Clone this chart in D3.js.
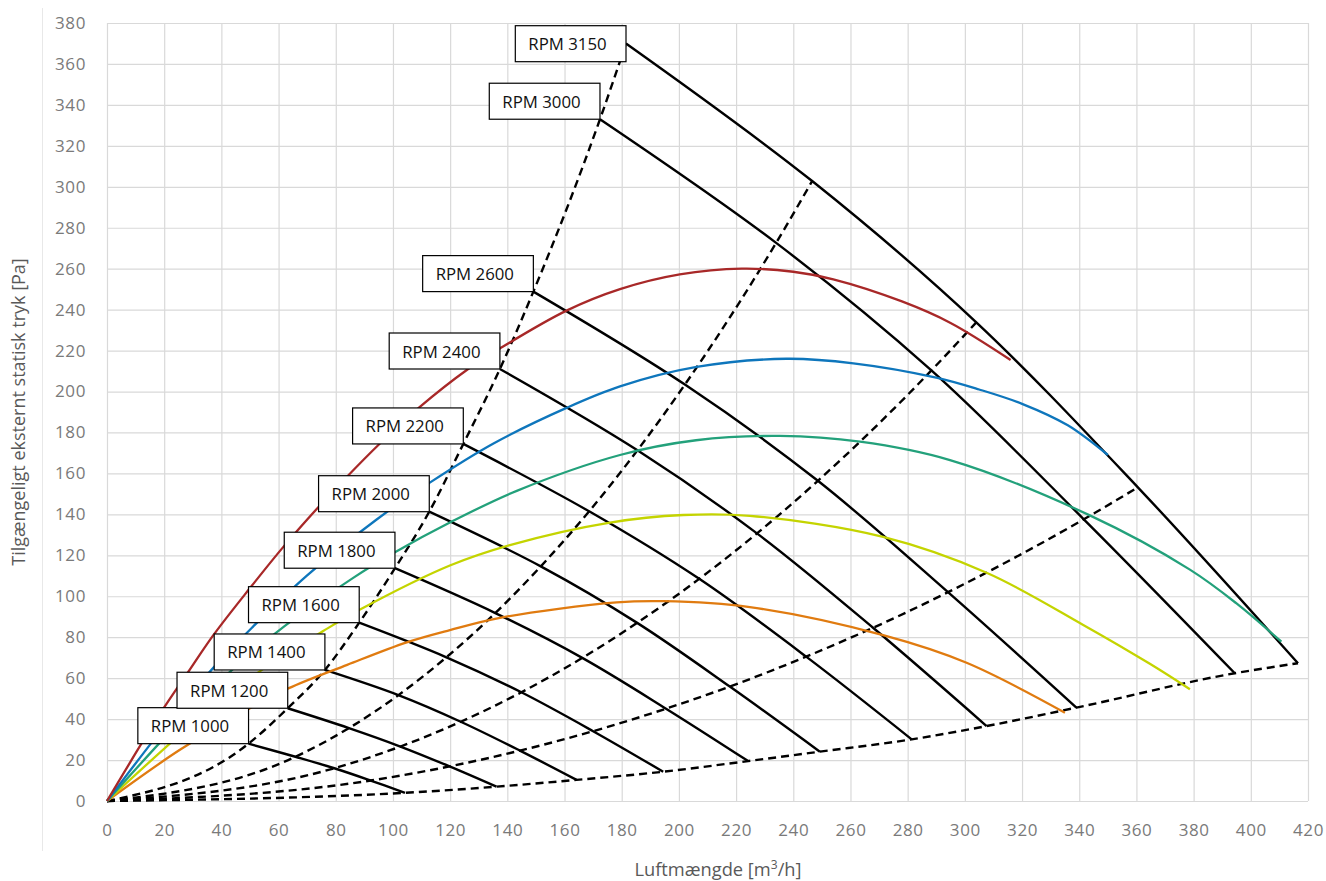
<!DOCTYPE html>
<html>
<head>
<meta charset="utf-8">
<script src="https://cdn.jsdelivr.net/npm/d3@7"></script>
<style>
  body { margin: 0; background: #fff; }
  svg { display: block; font-family: "Open Sans", sans-serif; }
</style>
</head>
<body>
<svg id="chart" width="1326" height="881"></svg>
<script>
// tick values
const xTicks = [0, 20, 40, 60, 80, 100, 120, 140, 160, 180, 200, 220, 240, 260, 280, 300, 320, 340, 360, 380, 400, 420];
const yTicks = [0, 20, 40, 60, 80, 100, 120, 140, 160, 180, 200, 220, 240, 260, 280, 300, 320, 340, 360, 380];

// fan speed curves, points where they meet the five system curves
const rpmLabels = ["RPM 1000", "RPM 1200", "RPM 1400", "RPM 1600", "RPM 1800", "RPM 2000",
                   "RPM 2200", "RPM 2400", "RPM 2600", "RPM 3000", "RPM 3150"];
const rpmCurves = [
    [[49.5, 28.0], [65.9, 21.6], [79.5, 16.0], [92.2, 10.0], [104.2, 4.0]],
    [[63.2, 45.3], [84.6, 35.6], [102.6, 26.6], [119.8, 16.9], [136.2, 7.0]],
    [[76.2, 64.0], [101.9, 51.7], [123.7, 38.7], [144.4, 24.6], [164.2, 10.3]],
    [[88.2, 87.1], [118.7, 70.2], [144.9, 53.1], [170.0, 34.1], [194.5, 14.3]],
    [[100.7, 113.7], [135.8, 91.8], [166.2, 69.9], [195.5, 45.1], [224.2, 19.5]],
    [[112.7, 141.3], [151.7, 114.6], [185.4, 87.0], [217.8, 55.9], [249.3, 24.1]],
    [[124.6, 174.4], [168.6, 141.5], [207.1, 108.5], [244.5, 70.5], [281.4, 30.1]],
    [[137.4, 211.0], [185.5, 171.3], [227.3, 130.7], [267.9, 84.6], [307.6, 36.6]],
    [[149.1, 248.8], [202.1, 203.4], [248.6, 156.4], [294.1, 102.0], [339.0, 45.6]],
    [[172.4, 333.0], [234.0, 272.6], [288.3, 210.3], [341.6, 137.6], [394.4, 62.4]],
    [[181.5, 370.0], [246.6, 302.8], [304.0, 233.8], [360.5, 153.2], [416.5, 67.3]]
];

// coloured curves
const redCurve = [[0, 0], [18.5, 42.5], [28.4, 63], [37.2, 81], [50, 104], [61.6, 124], [73.9, 143.5],
    [84, 158.5], [95, 174], [109, 192], [126.3, 211], [137.4, 221], [160.7, 239.5], [179.4, 250],
    [200.3, 257.2], [222, 260], [240, 258.5], [254, 254.8], [278, 244], [295, 233.5], [316, 215.4]];
const blueCurve = [[0, 0], [24.9, 45], [37.8, 66], [50.6, 84.5], [69.8, 110], [94.3, 137.5],
    [112.9, 155.5], [135, 174.5], [160.7, 192], [179.4, 202.5], [206.2, 212], [237.6, 216], [261, 213.8],
    [290, 206.8], [305, 201], [320, 194], [336, 183.5], [350, 169]];
const greenCurve = [[0, 0], [29.6, 45], [45.3, 66], [62.2, 85.5], [86.1, 109], [100.7, 121.5],
    [119.9, 136], [143.3, 151.5], [179.4, 169], [206, 176.2], [235.3, 178.3], [263.3, 175.5],
    [294.8, 166.5], [343.7, 139.5], [378.7, 113], [395, 96.5], [410.7, 77.8]];
const yellowCurve = [[0, 0], [36, 45], [55.2, 65], [75.6, 83], [88.5, 93.5], [119.9, 115],
    [140.9, 125], [175.9, 136], [201.5, 139.7], [224.8, 139.3], [271.4, 129], [307.6, 111.5],
    [341.4, 86], [364.7, 67], [378.7, 54.6]];
const orangeCurve = [[0, 0], [25.5, 25], [48.3, 44], [63.4, 55], [84, 66.5], [104.8, 77.5], [119.9, 83.5],
    [137.4, 89.5], [178.2, 97], [194.5, 97.6], [224.8, 94.7], [271.4, 81], [300.6, 67.5], [335, 43.1]];

const colouredCurves = [orangeCurve, yellowCurve, greenCurve, blueCurve, redCurve];
const colours = ["#e07b10", "#c4d400", "#23a17b", "#0e76bc", "#a82828"];

const plot = { left: 107, right: 1308, top: 23, bottom: 801 };

const svg = d3.select("#chart");

const xScale = d3.scaleLinear([0, 420], [plot.left, plot.right]);
const yScale = d3.scaleLinear([0, 380], [plot.bottom, plot.top]);

// chart area left border
svg.append("line")
    .attr("x1", 42.5).attr("x2", 42.5)
    .attr("y1", 8).attr("y2", 851)
    .attr("stroke", "#e8e8e8");

const xAxis = svg.append("g")
    .attr("transform", `translate(0, ${plot.bottom})`)
    .call(d3.axisBottom(xScale).tickValues(xTicks).tickSize(-(plot.bottom - plot.top))
        .tickSizeOuter(0).tickPadding(23));

const yAxis = svg.append("g")
    .attr("transform", `translate(${plot.left}, 0)`)
    .call(d3.axisLeft(yScale).tickValues(yTicks).tickSize(-(plot.right - plot.left))
        .tickSizeOuter(0).tickPadding(21));

[xAxis, yAxis].forEach(ax => {
    ax.select(".domain").remove();
    ax.selectAll(".tick line").attr("stroke", "#d9d9d9").attr("stroke-width", 1.2);
    ax.selectAll(".tick text")
        .attr("fill", "#7a7a7a")
        .style("font-size", "17px")
        .style("letter-spacing", "0.6px")
        .style("font-family", "Open Sans, sans-serif");
});

const dashedLine = d3.line()
    .x(d => xScale(d[0]))
    .y(d => yScale(d[1]))
    .curve(d3.curveMonotoneX);

const smoothLine = d3.line()
    .x(d => xScale(d[0]))
    .y(d => yScale(d[1]))
    .curve(d3.curveCatmullRom.alpha(0.5));

// system curves (dashed) through origin and the n-th point of every fan curve
const systemCurves = [0, 1, 2, 3, 4].map(i => [[0, 0]].concat(rpmCurves.map(c => c[i])));

svg.append("g").selectAll("path")
    .data(systemCurves)
    .join("path")
    .attr("fill", "none")
    .attr("stroke", "#000")
    .attr("stroke-width", 2.4)
    .attr("stroke-dasharray", "8,5")
    .attr("d", d => dashedLine(d));

svg.append("g").selectAll("path")
    .data(rpmCurves)
    .join("path")
    .attr("fill", "none")
    .attr("stroke", "#000")
    .attr("stroke-width", 2.4)
    .attr("d", d => smoothLine(d));

svg.append("g").selectAll("path")
    .data(colouredCurves)
    .join("path")
    .attr("fill", "none")
    .attr("stroke", (d, i) => colours[i])
    .attr("stroke-width", 2.3)
    .attr("d", d => smoothLine(d));

// labels at the start of each fan curve
const boxW = 110.7, boxH = 36;
const labels = svg.append("g").selectAll("g")
    .data(rpmCurves)
    .join("g")
    .attr("transform", d => {
        const px = xScale(d[0][0]);
        const py = yScale(d[0][1]);
        const top = Math.max(py - boxH, plot.top + 2.7);
        return `translate(${px - boxW}, ${top})`;
    });

labels.append("rect")
    .attr("width", boxW)
    .attr("height", boxH)
    .attr("fill", "#fff")
    .attr("stroke", "#000")
    .attr("stroke-width", 1.2);

labels.append("text")
    .attr("x", 13)
    .attr("y", 24.5)
    .attr("fill", "#111")
    .style("font-size", "16.8px")
    .text((d, i) => rpmLabels[i]);

// axis titles
svg.append("text")
    .attr("x", 718)
    .attr("y", 876)
    .attr("text-anchor", "middle")
    .attr("fill", "#595959")
    .style("font-size", "18.3px")
    .html("Luftmængde [m<tspan dy='-7' font-size='12px'>3</tspan><tspan dy='7'>/h]</tspan>");

svg.append("text")
    .attr("transform", `translate(25, ${(plot.top + plot.bottom) / 2}) rotate(-90)`)
    .attr("text-anchor", "middle")
    .attr("fill", "#595959")
    .style("font-size", "18px")
    .text("Tilgængeligt eksternt statisk tryk [Pa]");
</script>
</body>
</html>
